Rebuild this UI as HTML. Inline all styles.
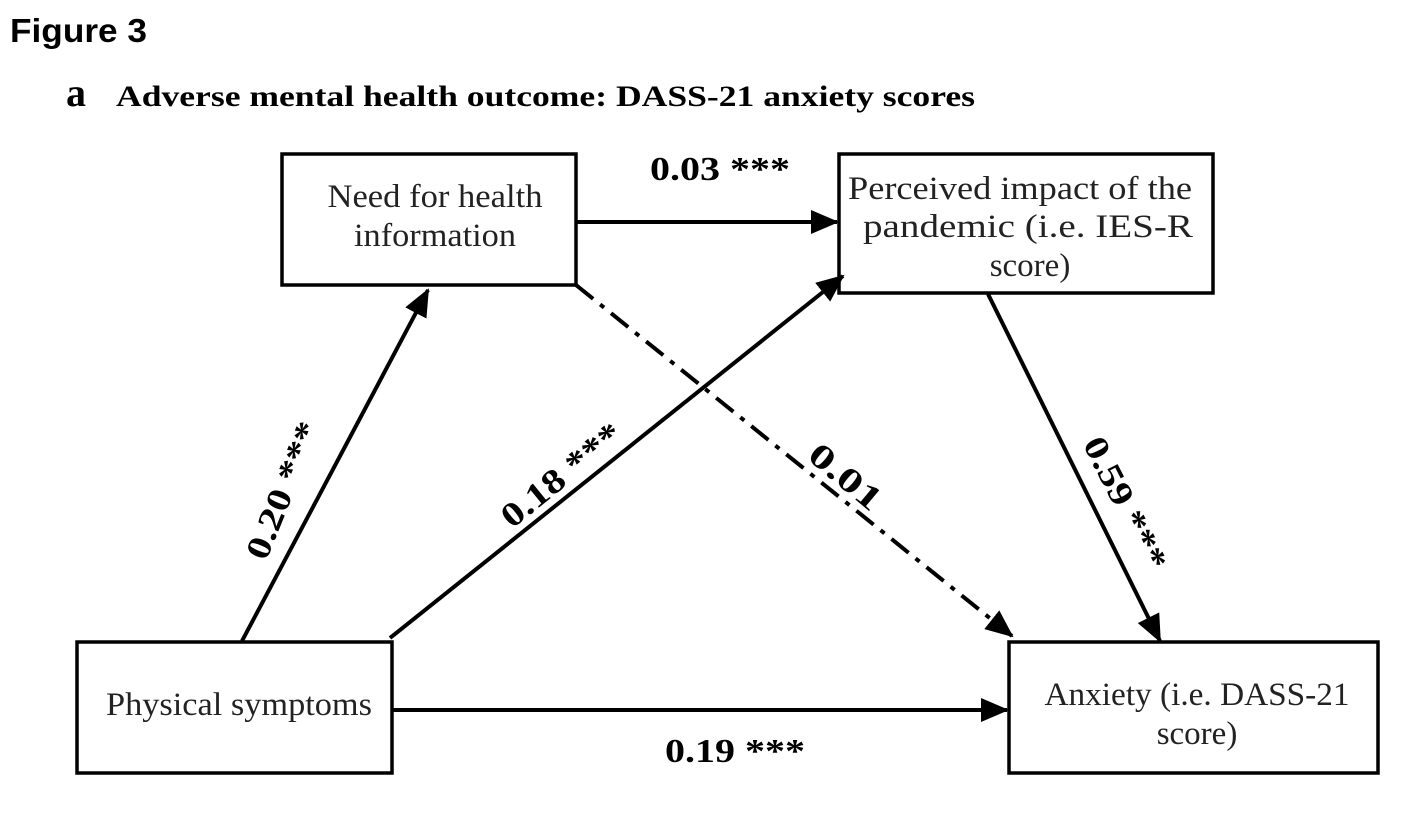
<!DOCTYPE html>
<html><head><meta charset="utf-8"><style>
html,body{margin:0;padding:0;background:#fff;}
svg{display:block;}
.s{font-family:"Liberation Serif",serif;}
</style></head><body>
<svg width="1422" height="818" viewBox="0 0 1422 818">
<defs>
<marker id="ah2" markerWidth="28" markerHeight="24" refX="26" refY="12" orient="auto" markerUnits="userSpaceOnUse">
<path d="M0,0 L28,12 L0,24 Z" fill="#000"/>
</marker>
</defs>
<text x="10" y="42" font-family="Liberation Sans,sans-serif" font-weight="bold" font-size="33" textLength="137" lengthAdjust="spacingAndGlyphs">Figure 3</text>
<text x="66" y="106" class="s" font-weight="bold" font-size="40">a</text>
<text x="116" y="106" class="s" font-weight="bold" font-size="30" textLength="859" lengthAdjust="spacingAndGlyphs">Adverse mental health outcome: DASS-21 anxiety scores</text>

<g fill="none" stroke="#000" stroke-width="3.5">
<rect x="282" y="154" width="294" height="131"/>
<rect x="839" y="154" width="374" height="139"/>
<rect x="77" y="642" width="315" height="131"/>
<rect x="1009" y="642" width="369" height="131"/>
</g>
<g class="s" font-size="33" text-anchor="middle" fill="#222">
<text x="435" y="207" textLength="215" lengthAdjust="spacingAndGlyphs">Need for health</text>
<text x="435" y="246" textLength="162" lengthAdjust="spacingAndGlyphs">information</text>
<text x="1020" y="199" textLength="344" lengthAdjust="spacingAndGlyphs">Perceived impact of the</text>
<text x="1028" y="237" textLength="330" lengthAdjust="spacingAndGlyphs">pandemic (i.e. IES-R</text>
<text x="1030" y="276">score)</text>
<text x="239" y="715" textLength="266" lengthAdjust="spacingAndGlyphs">Physical symptoms</text>
<text x="1197" y="705" textLength="305" lengthAdjust="spacingAndGlyphs">Anxiety (i.e. DASS-21</text>
<text x="1197" y="744">score)</text>
</g>

<g stroke="#000" stroke-width="4" fill="none">
<line x1="576" y1="222" x2="837" y2="222" marker-end="url(#ah2)"/>
<line x1="242" y1="641" x2="428" y2="290" marker-end="url(#ah2)"/>
<line x1="390" y1="638" x2="843" y2="276" marker-end="url(#ah2)"/>
<line x1="576" y1="285" x2="1012" y2="636" stroke-dasharray="22,9,5,9" marker-end="url(#ah2)"/>
<line x1="988" y1="294" x2="1160" y2="641" marker-end="url(#ah2)"/>
<line x1="392" y1="710" x2="1007" y2="710" marker-end="url(#ah2)"/>
</g>

<g class="s" font-size="34" font-weight="bold" fill="#000">
<text x="650" y="180" textLength="140" lengthAdjust="spacingAndGlyphs">0.03 ***</text>
<text x="665" y="762" textLength="140" lengthAdjust="spacingAndGlyphs">0.19 ***</text>
<text transform="translate(293,495) rotate(-68)" x="-72" textLength="145" lengthAdjust="spacingAndGlyphs">0.20 ***</text>
<text transform="translate(568,484) rotate(-39)" x="-72" textLength="145" lengthAdjust="spacingAndGlyphs">0.18 ***</text>
<text transform="translate(838,485) rotate(40)" x="-42" textLength="85" lengthAdjust="spacingAndGlyphs">0.01</text>
<text transform="translate(1115,508) rotate(63)" x="-72" textLength="145" lengthAdjust="spacingAndGlyphs">0.59 ***</text>
</g>
</svg>
</body></html>
